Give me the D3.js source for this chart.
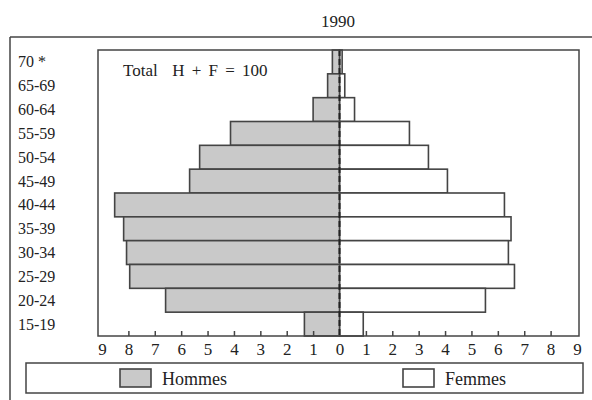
<!DOCTYPE html>
<html>
<head>
<meta charset="utf-8">
<script src="https://cdn.jsdelivr.net/npm/d3@7"></script>
<style>
  body { margin: 0; background: #fff; }
  svg { display: block; font-family: "Liberation Serif", "DejaVu Serif", serif; }
</style>
</head>
<body>
<svg width="592" height="400"></svg>
<script>
const ages = ["70 *", "65-69", "60-64", "55-59", "50-54", "45-49", "40-44", "35-39", "30-34", "25-29", "20-24", "15-19"];
const hommes = [0.27, 0.45, 1.0, 4.13, 5.3, 5.68, 8.52, 8.18, 8.07, 7.95, 6.59, 1.33];
const femmes = [0.1, 0.2, 0.57, 2.65, 3.37, 4.09, 6.25, 6.5, 6.4, 6.63, 5.53, 0.9];
const ticks = [-9, -8, -7, -6, -5, -4, -3, -2, -1, 0, 1, 2, 3, 4, 5, 6, 7, 8, 9];

const svg = d3.select("svg");
const ink = "#444";
const box = {left: 98, right: 579, top: 50, bottom: 336};

const x = d3.scaleLinear().domain([-9, 9]).range([102, 577]);
const y = d3.scaleBand().domain(ages).range([box.top, box.bottom]).padding(0);

// outer frame (only top and left edges show)
svg.append("line").attr("x1", 10).attr("x2", 592).attr("y1", 37).attr("y2", 37)
    .attr("stroke", ink).attr("stroke-width", 1.5);
svg.append("line").attr("x1", 10).attr("x2", 10).attr("y1", 37).attr("y2", 400)
    .attr("stroke", ink).attr("stroke-width", 1.5);

// title
svg.append("text").attr("x", 338).attr("y", 27).attr("text-anchor", "middle")
    .attr("font-size", 17).attr("fill", "#222").text("1990");

// bars
const rows = ages.map(function(a, i) { return {age: a, h: hommes[i], f: femmes[i]}; });

svg.append("g").selectAll("rect.f")
    .data(rows)
    .enter().append("rect")
    .attr("x", x(0))
    .attr("y", function(d) { return y(d.age); })
    .attr("width", function(d) { return x(d.f) - x(0); })
    .attr("height", y.bandwidth())
    .attr("fill", "#fff").attr("stroke", ink).attr("stroke-width", 1.6);

svg.append("g").selectAll("rect.h")
    .data(rows)
    .enter().append("rect")
    .attr("x", function(d) { return x(-d.h); })
    .attr("y", function(d) { return y(d.age); })
    .attr("width", function(d) { return x(0) - x(-d.h); })
    .attr("height", y.bandwidth())
    .attr("fill", "#c9c9c9").attr("stroke", ink).attr("stroke-width", 1.6);

// dashed centre line
svg.append("line").attr("x1", x(0)).attr("x2", x(0)).attr("y1", box.top).attr("y2", box.bottom)
    .attr("stroke", "#222").attr("stroke-width", 2).attr("stroke-dasharray", "6,3");

// plot box
svg.append("rect").attr("x", box.left).attr("y", box.top)
    .attr("width", box.right - box.left).attr("height", box.bottom - box.top)
    .attr("fill", "none").attr("stroke", ink).attr("stroke-width", 1.5);

// axis: ticks upward, labels below
const axis = svg.append("g")
    .attr("transform", "translate(0," + box.bottom + ")")
    .call(d3.axisBottom(x).tickValues(ticks).tickSize(-5).tickPadding(7)
        .tickFormat(function(d) { return Math.abs(d); }));
axis.select(".domain").remove();
axis.selectAll(".tick line")
    .attr("stroke", ink).attr("stroke-width", 1.5)
    .attr("display", function(d) { return (d === 0 || Math.abs(d) === 9) ? "none" : null; });
axis.selectAll(".tick text")
    .attr("font-family", "Liberation Serif, serif").attr("font-size", 17).attr("fill", "#222");

// age labels
svg.append("g").selectAll("text")
    .data(ages)
    .enter().append("text")
    .attr("x", 18)
    .attr("y", function(d) { return y(d) + y.bandwidth() / 2 + 5.5; })
    .attr("font-size", 16).attr("fill", "#222")
    .text(function(d) { return d; });

svg.append("text").attr("x", 123).attr("y", 76)
    .attr("font-size", 17).attr("fill", "#222")
    .attr("word-spacing", 3)
    .style("white-space", "pre")
    .text("Total  H + F = 100");

// legend
svg.append("rect").attr("x", 26).attr("y", 363).attr("width", 557).attr("height", 30)
    .attr("fill", "none").attr("stroke", ink).attr("stroke-width", 1.5);

const legend = [
    {label: "Hommes", fill: "#c9c9c9", x: 120},
    {label: "Femmes", fill: "#fff", x: 403}
];
const li = svg.append("g").selectAll("g")
    .data(legend)
    .enter().append("g")
    .attr("transform", function(d) { return "translate(" + d.x + ",369)"; });
li.append("rect").attr("width", 31).attr("height", 18)
    .attr("fill", function(d) { return d.fill; }).attr("stroke", ink).attr("stroke-width", 1.6);
li.append("text").attr("x", 42).attr("y", 16)
    .attr("font-size", 18).attr("fill", "#222")
    .text(function(d) { return d.label; });
</script>
</body>
</html>
